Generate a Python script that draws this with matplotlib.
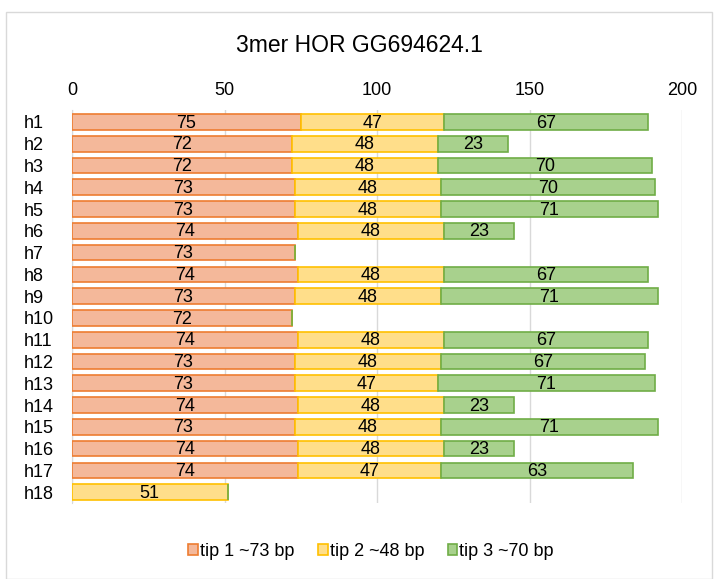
import matplotlib
matplotlib.use("Agg")
import matplotlib.pyplot as plt
import numpy as np
from matplotlib.patches import Rectangle

plt.rcParams["font.family"] = ["Liberation Sans", "DejaVu Sans"]

categories = [f"h{i}" for i in range(1, 19)]
tip1 = [75, 72, 72, 73, 73, 74, 73, 74, 73, 72, 74, 73, 73, 74, 73, 74, 74, 0]
tip2 = [47, 48, 48, 48, 48, 48, 0, 48, 48, 0, 48, 48, 47, 48, 48, 48, 47, 51]
tip3 = [67, 23, 70, 70, 71, 23, 0, 67, 71, 0, 67, 67, 71, 23, 71, 23, 63, 0]
series_names = ["tip 1 ~73 bp", "tip 2 ~48 bp", "tip 3 ~70 bp"]
fills = ["#F4B89A", "#FFDE8A", "#A8D18D"]
edges = ["#ED7D31", "#FFC000", "#70AD47"]

fig = plt.figure(figsize=(7.18, 5.79), dpi=100)
fig.patches.append(Rectangle((6 / 718, 0), 706 / 718, 1 - 12 / 579,
                             transform=fig.transFigure, fill=False,
                             edgecolor="#D9D9D9", linewidth=1.0))

ax = fig.add_axes([72 / 718, 1 - 503 / 579, 610 / 718, 393 / 579])
y = np.arange(len(categories))
left = np.zeros(len(categories))
for vals, name, fc, ec in zip([tip1, tip2, tip3], series_names, fills, edges):
    vals = np.array(vals, dtype=float)
    bars = ax.barh(y, vals, left=left, height=0.72, color=fc, edgecolor=ec,
                   linewidth=1.2, label=name, zorder=3)
    for b, v in zip(bars, vals):
        if v > 0:
            ax.text(b.get_x() + b.get_width() / 2, b.get_y() + b.get_height() / 2 + 0.05,
                    f"{int(v)}", ha="center", va="center", fontsize=13, color="#000000",
                    zorder=4)
    left += vals

ax.set_xlim(0, 200)
ax.set_ylim(17.5, -0.55)
ax.set_xticks([0, 50, 100, 150, 200])
ax.set_yticks(y)
ax.set_yticklabels(categories, ha="left")
ax.xaxis.tick_top()
ax.tick_params(axis="both", length=0, labelsize=13, colors="#000000")
ax.tick_params(axis="x", pad=8)
ax.tick_params(axis="y", pad=34.5)
ax.grid(axis="x", color="#D9D9D9", linewidth=1.0, zorder=0)
for side in ["top", "right", "bottom"]:
    ax.spines[side].set_visible(False)
ax.spines["left"].set_color("#D9D9D9")

fig.text(0.5, 1 - 46 / 579, "3mer HOR GG694624.1", ha="center", va="center",
         fontsize=16.5, color="#000000")

handles, labels = ax.get_legend_handles_labels()
fig.legend(handles, labels, loc="center", bbox_to_anchor=(371 / 718, 1 - 551 / 579),
           ncol=3, frameon=False, fontsize=13, handlelength=0.55, handleheight=0.55,
           handletextpad=0.1, columnspacing=1.3)

fig.savefig("out.png", dpi=100)
